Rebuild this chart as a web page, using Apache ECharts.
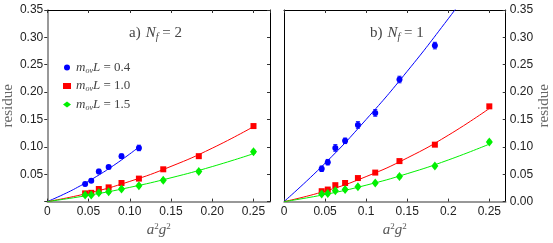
<!DOCTYPE html>
<html><head><meta charset="utf-8">
<script src="https://cdn.jsdelivr.net/npm/echarts@6/dist/echarts.min.js"></script>
<style>html,body{margin:0;padding:0;background:#fff}#c{width:553px;height:243px}</style>
</head><body><div id="c"></div>
<script>
// ---- data ----
const a2g2 = [0.0459, 0.0533, 0.0625, 0.0744, 0.0900, 0.1111, 0.1406, 0.1837, 0.2500];

// a) Nf = 2
const nf2_m04     = [0.032, 0.038, 0.055, 0.063, 0.083, 0.098];
const nf2_m04_err = [0.003, 0.003, 0.004, 0.003, 0.004, 0.005];
const nf2_m10     = [0.015, 0.016, 0.023, 0.026, 0.034, 0.042, 0.059, 0.083, 0.138];
const nf2_m10_err = [0.002, 0.002, 0.002, 0.002, 0.002, 0.002, 0.002, 0.002, 0.003];
const nf2_m15     = [0.012, 0.012, 0.016, 0.018, 0.023, 0.029, 0.039, 0.055, 0.091];
const nf2_m15_err = [0.003, 0.003, 0.003, 0.003, 0.003, 0.003, 0.003, 0.003, 0.003];

// b) Nf = 1
const nf1_m04     = [0.060, 0.072, 0.098, 0.111, 0.140, 0.162, 0.223, 0.285];
const nf1_m04_err = [0.005, 0.005, 0.006, 0.005, 0.006, 0.006, 0.006, 0.006];
const nf1_m10     = [0.019, 0.022, 0.030, 0.034, 0.043, 0.053, 0.074, 0.104, 0.174];
const nf1_m10_err = [0.002, 0.002, 0.002, 0.002, 0.002, 0.002, 0.002, 0.002, 0.003];
const nf1_m15     = [0.014, 0.015, 0.020, 0.022, 0.027, 0.034, 0.046, 0.065, 0.109];
const nf1_m15_err = [0.003, 0.003, 0.003, 0.003, 0.003, 0.003, 0.003, 0.003, 0.003];

// fit curves
const fitX          = [0, 0.05, 0.10, 0.15, 0.20, 0.25];
const fitX_nf2_m04  = [0, 0.02, 0.04, 0.06, 0.08, 0.10, 0.111];
const fit_nf2_m04   = [0, 0.0134, 0.0288, 0.0462, 0.0656, 0.0870, 0.0996];
const fit_nf2_m10   = [0, 0.0155, 0.0369, 0.0643, 0.0976, 0.1369];
const fit_nf2_m15   = [0, 0.0115, 0.0260, 0.0435, 0.0640, 0.0875];
const fitX_nf1_m04  = [0, 0.05, 0.10, 0.15, 0.20, 0.22];
const fit_nf1_m04   = [0, 0.070, 0.150, 0.238, 0.334, 0.375];
const fit_nf1_m10   = [0, 0.0191, 0.0457, 0.0797, 0.1212, 0.1701];
const fit_nf1_m15   = [0, 0.013, 0.030, 0.051, 0.076, 0.105];

const legendNames = ['0.4', '1.0', '1.5'];
const xTicksLeft  = ['0', '0.05', '0.10', '0.15', '0.20', '0.25'];
const xTicksRight = ['0', '0.05', '0.1', '0.15', '0.2', '0.25'];
const yTicksLeft  = ['', '0.05', '0.10', '0.15', '0.20', '0.25', '0.30', '0.35'];
const yTicksRight = ['0.00', '0.05', '0.10', '0.15', '0.20', '0.25', '0.30', '0.35'];

// ---- helpers ----
const BLUE = '#0000ff', RED = '#ff0000', GREEN = '#00f000';
const zip = (xs, ys) => ys.map((y, i) => [xs[i], y]);
const zip3 = (xs, ys, es) => ys.map((y, i) => [xs[i], y, es[i]]);
const tickFmt = (labels, step) => v => {
  const k = v / step, r = Math.round(k);
  return Math.abs(k - r) < 1e-6 && labels[r] !== undefined ? labels[r] : '';
};
const serif = 'Liberation Serif';
const labelStyle = {fontFamily: 'Liberation Sans', fontSize: 12, color: '#222'};

function errItem(params, api) {
  const x = api.value(0), y = api.value(1), e = api.value(2);
  const hi = api.coord([x, y + e]), lo = api.coord([x, y - e]);
  const c = api.visual('color'), w = 2;
  const st = {stroke: c, lineWidth: 1};
  return {type: 'group', children: [
    {type: 'line', shape: {x1: hi[0], y1: hi[1], x2: lo[0], y2: lo[1]}, style: st},
    {type: 'line', shape: {x1: hi[0] - w, y1: hi[1], x2: hi[0] + w, y2: hi[1]}, style: st},
    {type: 'line', shape: {x1: lo[0] - w, y1: lo[1], x2: lo[0] + w, y2: lo[1]}, style: st}
  ]};
}

const series = [];
function addPanel(xi, yi, sets) {
  sets.forEach(s => {
    series.push({type: 'line', xAxisIndex: xi, yAxisIndex: yi, data: zip(s.fx, s.fy), smooth: true,
      showSymbol: false, symbol: 'none', lineStyle: {color: s.c, width: 1}, itemStyle: {color: s.c},
      silent: true, z: 2, name: 'fit' + s.name});
    series.push({type: 'custom', xAxisIndex: xi, yAxisIndex: yi, renderItem: errItem,
      data: zip3(a2g2, s.y, s.e), encode: {x: 0, y: 1}, itemStyle: {color: s.c}, z: 3, silent: true,
      name: 'err' + s.name});
    series.push({type: 'scatter', name: s.name, xAxisIndex: xi, yAxisIndex: yi, data: zip(a2g2, s.y),
      symbol: s.sym, symbolSize: s.size, itemStyle: {color: s.c, opacity: 1}, z: 4});
  });
}
addPanel(0, 0, [
  {name: legendNames[0], c: BLUE, sym: 'circle', size: 6, y: nf2_m04, e: nf2_m04_err, fx: fitX_nf2_m04, fy: fit_nf2_m04},
  {name: legendNames[1], c: RED, sym: 'rect', size: 6, y: nf2_m10, e: nf2_m10_err, fx: fitX, fy: fit_nf2_m10},
  {name: legendNames[2], c: GREEN, sym: 'diamond', size: [7, 9], y: nf2_m15, e: nf2_m15_err, fx: fitX, fy: fit_nf2_m15}
]);
addPanel(2, 3, [
  {name: legendNames[0], c: BLUE, sym: 'circle', size: 6, y: nf1_m04, e: nf1_m04_err, fx: fitX_nf1_m04, fy: fit_nf1_m04},
  {name: legendNames[1], c: RED, sym: 'rect', size: 6, y: nf1_m10, e: nf1_m10_err, fx: fitX, fy: fit_nf1_m10},
  {name: legendNames[2], c: GREEN, sym: 'diamond', size: [7, 9], y: nf1_m15, e: nf1_m15_err, fx: fitX, fy: fit_nf1_m15}
]);

const nameRich = {
  i: {fontFamily: serif, fontStyle: 'italic', fontSize: 15, color: '#555', lineHeight: 16},
  sup: {fontFamily: serif, fontSize: 9, color: '#555', verticalAlign: 'top', lineHeight: 9}
};
const xName = '{i|a}{sup|2}{i|g}{sup|2}';

function xAxisMain(gi, labels) {
  return {gridIndex: gi, type: 'value', min: 0, max: 0.27, interval: 0.05, position: 'bottom',
    axisLine: {onZero: false, lineStyle: {color: '#777', width: 1.5}},
    axisTick: {inside: true, length: 3, lineStyle: {color: '#333'}},
    axisLabel: Object.assign({formatter: tickFmt(labels, 0.05), margin: 4, showMaxLabel: false}, labelStyle),
    splitLine: {show: false},
    name: xName, nameLocation: 'middle', nameGap: 16, nameTextStyle: {rich: nameRich}};
}
function frameX(gi) {
  return {gridIndex: gi, type: 'value', min: 0, max: 0.27, interval: 0.05, position: 'top',
    axisLine: {onZero: false, lineStyle: {color: '#000', width: 1}},
    axisTick: {inside: true, length: 3, lineStyle: {color: '#333'}},
    axisLabel: {show: false}, splitLine: {show: false}};
}
function yAxisDef(gi, pos, opts) {
  return Object.assign({gridIndex: gi, type: 'value', min: 0, max: 0.35, interval: 0.05, position: pos,
    axisLine: {onZero: false, lineStyle: {color: '#000', width: 1}},
    axisTick: {inside: true, length: 3, lineStyle: {color: '#333'}},
    axisLabel: {show: false}, splitLine: {show: false}}, opts || {});
}
const residueStyle = {fontFamily: serif, fontSize: 15, color: '#666'};

const titleRich = {
  n: {fontFamily: serif, fontSize: 15, fontWeight: 'normal', color: '#444', lineHeight: 18},
  i: {fontFamily: serif, fontStyle: 'italic', fontWeight: 'normal', fontSize: 15, color: '#444', lineHeight: 18},
  s: {fontFamily: serif, fontStyle: 'italic', fontWeight: 'normal', fontSize: 10, color: '#444', verticalAlign: 'bottom', lineHeight: 11}
};

const option = {
  animation: false,
  backgroundColor: '#fff',
  title: [
    {text: '{n|a)} {i|N}{s|f}{n| = 2}', left: 129, top: 24, padding: 0,
      textStyle: {fontWeight: 'normal', rich: titleRich}},
    {text: '{n|b)} {i|N}{s|f}{n| = 1}', left: 370, top: 24, padding: 0,
      textStyle: {fontWeight: 'normal', rich: titleRich}}
  ],
  legend: {
    data: legendNames, orient: 'vertical', left: 63, top: 61, itemWidth: 8, itemHeight: 6, itemGap: 5,
    padding: 0, selectedMode: false,
    formatter: n => '{i|m}{s|ov}{i|L}{n| = ' + n + '}',
    textStyle: {rich: {
      i: {fontFamily: serif, fontStyle: 'italic', fontSize: 13, color: '#444', lineHeight: 14},
      s: {fontFamily: serif, fontStyle: 'italic', fontSize: 8, color: '#444', verticalAlign: 'bottom', lineHeight: 9},
      n: {fontFamily: serif, fontSize: 13, color: '#444', lineHeight: 14}
    }}
  },
  grid: [
    {left: 46, right: 283, top: 10, bottom: 35, containLabel: false},
    {left: 284, right: 45, top: 10, bottom: 35, containLabel: false}
  ],
  xAxis: [xAxisMain(0, xTicksLeft), frameX(0), xAxisMain(1, xTicksRight), frameX(1)],
  yAxis: [
    yAxisDef(0, 'left', {
      axisLine: {onZero: false, lineStyle: {color: '#777', width: 1.5}},
      axisTick: {inside: false, length: 3, lineStyle: {color: '#333'}},
      axisLabel: Object.assign({formatter: tickFmt(yTicksLeft, 0.05), margin: 4}, labelStyle),
      name: 'residue', nameLocation: 'middle', nameGap: 29, nameRotate: 90, nameTextStyle: residueStyle}),
    yAxisDef(0, 'right'),
    yAxisDef(1, 'left', {axisTick: {show: false}}),
    yAxisDef(1, 'right', {
      axisLabel: Object.assign({formatter: tickFmt(yTicksRight, 0.05), margin: 4}, labelStyle),
      name: 'residue', nameLocation: 'middle', nameGap: 27, nameRotate: 90, nameTextStyle: residueStyle})
  ],
  series: series
};
const chart = echarts.init(document.getElementById('c'), null, {renderer: 'canvas'});
chart.setOption(option);
</script></body></html>
